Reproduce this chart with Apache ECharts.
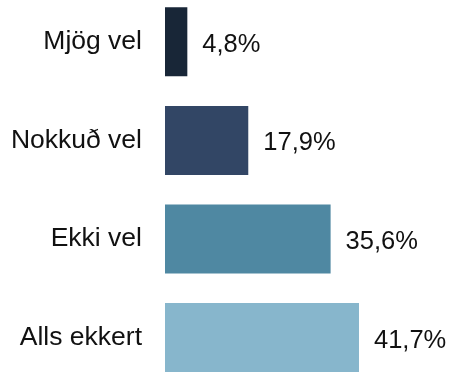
<!DOCTYPE html>
<html>
<head>
<meta charset="utf-8">
<script src="https://cdn.jsdelivr.net/npm/echarts@6/dist/echarts.min.js"></script>
<style>
  html, body { margin: 0; padding: 0; background: #fff; overflow: hidden; }
  body { width: 451px; height: 372px; position: relative; }
  /* The plot runs slightly past the top and bottom edges of the page */
  #chart { position: absolute; left: 0; top: -8px; width: 451px; height: 396px; }
</style>
</head>
<body>
<div id="chart"></div>
<script>
// Answer categories, top to bottom
const categories = ['Mjög vel', 'Nokkuð vel', 'Ekki vel', 'Alls ekkert'];
// Share of respondents (%)
const values = [4.8, 17.9, 35.6, 41.7];
// Bar fill per category
const colors = ['#182637', '#324665', '#4f88a2', '#87b6cc'];

const chart = echarts.init(document.getElementById('chart'), null, { renderer: 'canvas' });

chart.setOption({
  animation: false,
  backgroundColor: '#ffffff',
  grid: { left: 165, top: 0.5, width: 232.6, height: 394.4, containLabel: false },
  xAxis: {
    type: 'value',
    min: 0,
    max: 50,
    show: false
  },
  yAxis: {
    type: 'category',
    data: categories,
    inverse: true,
    axisLine: { show: false },
    axisTick: { show: false },
    axisLabel: {
      margin: 23,
      fontFamily: 'Liberation Sans, Arial, sans-serif',
      fontSize: 26.5,
      color: '#111111'
    }
  },
  series: [{
    type: 'bar',
    data: values.map((v, i) => ({ value: v, itemStyle: { color: colors[i] } })),
    barCategoryGap: '30%',
    label: {
      show: true,
      position: 'right',
      distance: 15,
      offset: [0, 3],
      fontFamily: 'Liberation Sans, Arial, sans-serif',
      fontSize: 25.5,
      color: '#111111',
      formatter: p => p.value.toFixed(1).replace('.', ',') + '%'
    }
  }]
});
</script>
</body>
</html>
